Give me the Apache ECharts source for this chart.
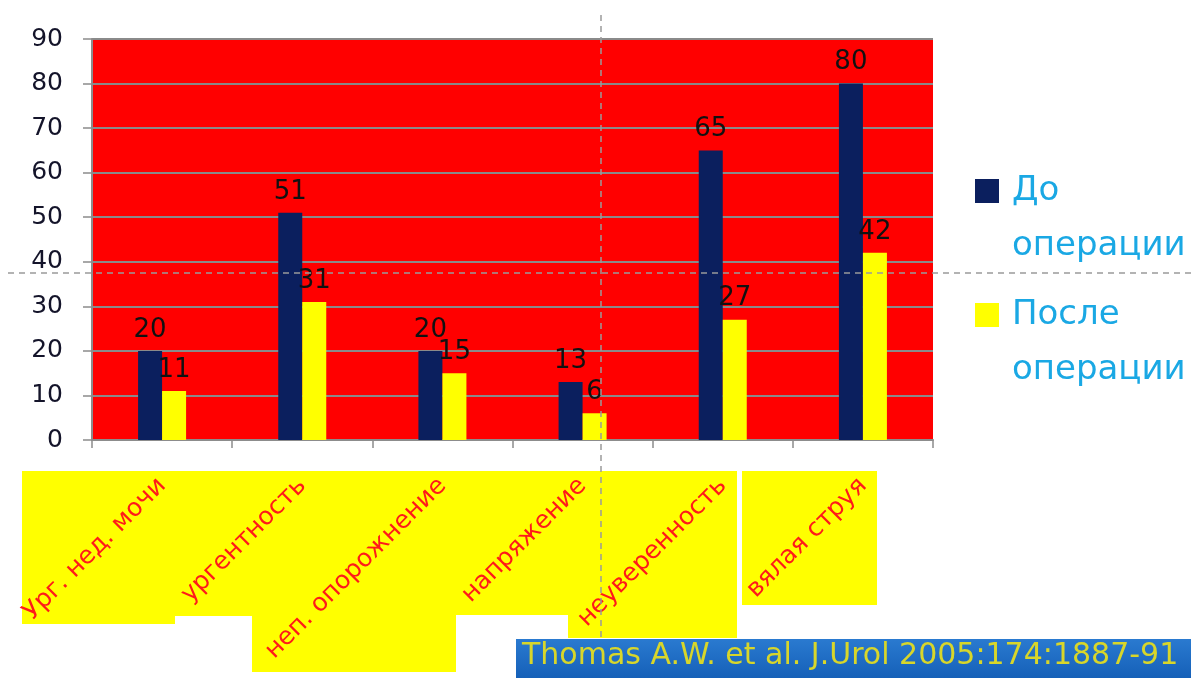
<!DOCTYPE html>
<html>
<head>
<meta charset="utf-8">
<script src="https://cdn.jsdelivr.net/npm/echarts@6/dist/echarts.min.js"></script>
<style>
  html, body { margin: 0; padding: 0; background: #ffffff; }
  #chart { width: 1191px; height: 678px; }
</style>
</head>
<body>
<div id="chart"></div>
<script>
// Symptom categories and scores before / after surgery
const categories = ['Ург. нед. мочи', 'ургентность', 'неп. опорожнение', 'напряжение', 'неуверенность', 'вялая струя'];
const beforeValues = [20, 51, 20, 13, 65, 80];
const afterValues = [11, 31, 15, 6, 27, 42];
const seriesNames = ['До операции', 'После операции'];
const yTicks = { min: 0, max: 90, interval: 10 };
const citation = 'Thomas A.W. et al. J.Urol 2005:174:1887-91';

const FONT = 'DejaVu Sans';
const chart = echarts.init(document.getElementById('chart'));

// Yellow panels behind the rotated category names
const labelPanels = [
  [22, 471, 153, 153],
  [175, 471, 77, 145],
  [252, 471, 204, 201],
  [456, 471, 112, 144],
  [568, 471, 169, 167],
  [742, 471, 135, 134]
];

function legendFor(name, top) {
  const words = name.split(' ');
  return {
    data: [name],
    orient: 'vertical',
    left: 975,
    top: top,
    padding: 0,
    itemWidth: 24,
    itemHeight: 24,
    icon: 'rect',
    selectedMode: false,
    formatter: () => '{a|' + words[0] + '}\n{a|' + words[1] + '}',
    textStyle: {
      padding: [55, 0, 0, 8],
      rich: {
        a: { fontFamily: FONT, fontSize: 34, lineHeight: 55, color: '#1aa8e4' }
      }
    }
  };
}

const option = {
  backgroundColor: '#ffffff',
  animation: false,
  grid: {
    left: 92, right: 258, top: 39, bottom: 238,
    show: true, backgroundColor: '#ff0000', borderWidth: 0
  },
  legend: [legendFor(seriesNames[0], 174), legendFor(seriesNames[1], 298)],
  xAxis: {
    type: 'category',
    data: categories,
    axisLine: { show: true, lineStyle: { color: '#8c8c8c', width: 2 } },
    axisTick: { show: true, length: 8, lineStyle: { color: '#8c8c8c', width: 1.5 } },
    axisLabel: {
      interval: 0, rotate: 45, margin: 42,
      color: '#ff1a1a', fontFamily: FONT, fontSize: 25
    },
    splitLine: { show: false }
  },
  yAxis: {
    type: 'value',
    min: yTicks.min, max: yTicks.max, interval: yTicks.interval,
    axisLine: { show: true, lineStyle: { color: '#8c8c8c', width: 2 } },
    axisTick: { show: true, length: 9, lineStyle: { color: '#8c8c8c', width: 1.5 } },
    axisLabel: { margin: 29, color: '#14142a', fontFamily: FONT, fontSize: 25 },
    splitLine: { show: true, lineStyle: { color: '#8a8a8a', width: 2 } }
  },
  series: [
    {
      name: seriesNames[0], type: 'bar', data: beforeValues,
      barWidth: 24, barGap: '0%',
      itemStyle: { color: '#0b1f5e' },
      label: { show: true, position: 'top', distance: 8, color: '#111111', fontFamily: FONT, fontSize: 26 }
    },
    {
      name: seriesNames[1], type: 'bar', data: afterValues,
      barWidth: 24, barGap: '0%',
      itemStyle: { color: '#ffff00' },
      label: { show: true, position: 'top', distance: 8, color: '#111111', fontFamily: FONT, fontSize: 26 }
    }
  ],
  graphic: [
    ...labelPanels.map(p => ({
      type: 'rect', z: -1,
      shape: { x: p[0], y: p[1], width: p[2], height: p[3] },
      style: { fill: '#ffff00' }
    })),
    {
      type: 'rect', z: 50,
      shape: { x: 516, y: 639, width: 675, height: 39 },
      style: {
        fill: new echarts.graphic.LinearGradient(0, 0, 0, 1, [
          { offset: 0, color: '#2a7ad0' },
          { offset: 1, color: '#1560b8' }
        ])
      }
    },
    {
      type: 'text', z: 51, left: 522, top: 641,
      style: { text: citation, fill: '#d8d62a', font: '30px "DejaVu Sans"' }
    },
    {
      type: 'line', z: 100,
      shape: { x1: 8, y1: 273, x2: 1191, y2: 273 },
      style: { stroke: '#9a9a9a', lineWidth: 1.5, lineDash: [6, 5] }
    },
    {
      type: 'line', z: 100,
      shape: { x1: 601, y1: 15, x2: 601, y2: 639 },
      style: { stroke: '#9a9a9a', lineWidth: 1.5, lineDash: [6, 5] }
    }
  ]
};

chart.setOption(option);
</script>
</body>
</html>
